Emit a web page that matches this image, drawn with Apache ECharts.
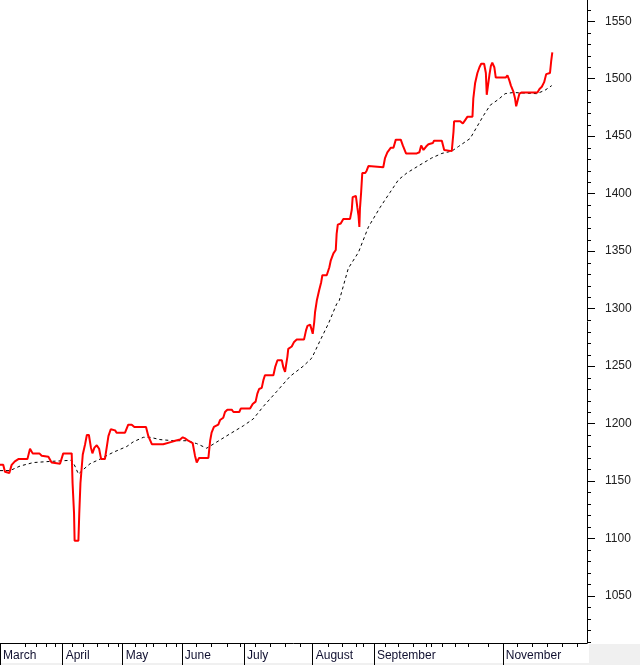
<!DOCTYPE html>
<html><head><meta charset="utf-8">
<script src="https://cdn.jsdelivr.net/npm/echarts@6/dist/echarts.min.js"></script>
<style>html,body{margin:0;padding:0;background:#fff}#c{width:640px;height:665px}</style>
</head><body><div id="c"></div>
<script>
// trading-day index (x) and price (y)
const priceDay = [0,1.1,1.7,3.2,4.0,5.1,6.3,9.4,10.3,11.2,13.5,14.3,16.6,17.7,20.6,21.7,24.6,24.9,25.4,25.6,26.9,27.2,27.6,28.4,29.2,29.8,30.5,31.2,31.7,32.4,33.2,34.0,34.7,36.0,36.6,37.2,38.0,39.5,40.0,42.9,44.0,45.2,46.1,50.1,50.9,52.1,56.0,56.6,58.9,60.1,61.8,62.7,63.5,64.6,66.1,66.9,67.5,68.3,71.5,72.1,72.6,73.4,74.9,75.5,76.6,77.2,78.0,79.5,80.1,82.1,82.6,85.8,86.7,87.7,88.3,88.9,89.8,90.4,90.9,93.8,94.4,95.2,96.7,97.2,97.8,98.1,98.6,98.9,100.1,100.9,101.8,104.3,105.0,105.5,106.4,107.0,107.3,107.8,108.1,108.7,109.5,110.2,110.6,112.1,113.0,113.5,114.4,115.2,115.5,115.9,116.9,117.8,120.1,120.7,121.0,122.1,122.6,123.0,123.3,123.5,123.9,124.3,125.3,125.8,126.4,131.5,132.1,132.9,134.1,135.0,135.8,137.5,138.2,139.3,143.0,143.9,144.5,145.3,146.2,147.0,148.5,148.9,151.6,152.4,152.7,155.0,155.6,155.8,157.9,158.8,159.6,160.4,162.1,162.4,163.0,163.8,164.5,165.1,166.1,166.7,167.0,167.5,167.9,168.4,168.9,169.6,170.1,173.5,174.1,174.7,175.3,176.1,176.7,177.1,177.5,178.2,179.0,184.4,185.1,185.9,186.7,187.4,188.7,189.1,189.5];
const priceVal = [1164,1164,1158,1157,1164,1167,1169,1169,1178,1174,1174,1172,1171,1166,1165,1174,1174,1148,1122,1098,1098,1122,1148,1173,1182,1190,1190,1179,1174,1179,1181,1178,1169,1169,1179,1189,1195,1194,1192,1192,1199,1199,1197,1197,1189,1182,1182,1183,1184,1185,1186,1188,1187,1185,1183,1172,1166,1170,1170,1185,1192,1197,1199,1203,1205,1210,1212,1212,1210,1210,1213,1213,1217,1219,1226,1230,1231,1238,1242,1242,1249,1255,1255,1249,1245,1250,1258,1265,1267,1271,1273,1273,1281,1285,1286,1281,1278,1288,1297,1307,1316,1323,1329,1329,1336,1342,1348,1351,1365,1373,1374,1378,1378,1386,1397,1398,1388,1381,1371,1387,1401,1418,1418,1420,1424,1423,1431,1436,1440,1440,1447,1447,1442,1435,1435,1436,1442,1438,1441,1443,1444,1446,1446,1438,1437,1437,1454,1463,1463,1461,1464,1467,1467,1483,1496,1505,1510,1513,1513,1505,1486,1486,1503,1511,1514,1510,1501,1501,1503,1499,1494,1489,1483,1476,1480,1487,1488,1488,1491,1493,1497,1504,1505,1515,1523];
// moving average
const maDay = [0,3.4,6.9,11.4,17.2,24.6,25.7,26.9,28.6,30.9,34.3,38.9,43.5,45.7,49.2,51.5,54.9,59.5,64.1,67.5,70.9,73.8,78.9,83.5,86.9,90.4,95.0,99.5,104.1,107.0,109.8,112.7,115.5,116.4,119.5,123.0,126.4,130.4,133.8,136.7,139.6,144.1,148.1,151.6,155.0,157.3,161.3,163.6,165.9,168.2,171.0,173.3,176.1,184.2,187.0,189.3];
const maVal = [1159,1159,1163,1166,1167,1168,1163,1156,1160,1165,1169,1175,1180,1184,1188,1188,1186,1185,1185,1182.5,1178.5,1183,1191,1198,1204,1215,1228,1241,1250,1257,1272,1287,1304,1307,1335,1349,1371,1388,1401,1412,1418,1425,1431,1435,1437,1441,1448,1458,1468,1477,1482,1487,1488,1487,1490,1494];
const monthNames = ["March","April","May","June","July","August","September","November"];
const monthStarts = [0,21.5,42.1,62.4,83.7,107.3,128.3,172.5];
const weekTicks = [8.6,12.4,16.0,18.9,24.9,28.6,33.2,37.2,40.6,46.3,50.3,52.6,57.0,60.6,67.5,72.6,77.8,82.4,87.5,92.7,97.8,103.0,112.7,117.3,122.4,124.7,132.1,136.7,141.8,146.4,148.1,151.6,156.1,160.7,167.6,177.3,182.5,187.6,192.8,197.9];
const yLabels = [1050,1100,1150,1200,1250,1300,1350,1400,1450,1500,1550];
const yMinor = [1010,1020,1030,1040,1060,1070,1080,1090,1110,1120,1130,1140,1160,1170,1180,1190,1210,1220,1230,1240,1260,1270,1280,1290,1310,1320,1330,1340,1360,1370,1380,1390,1410,1420,1430,1440,1460,1470,1480,1490,1510,1520,1530,1540,1560];

const X_MIN = 0, X_MAX = 201.4, Y_MIN = 1009, Y_MAX = 1568.5;
const FONT = 'Liberation Sans, Arial, sans-serif';

const chart = echarts.init(document.getElementById('c'), null, {renderer: 'canvas'});
chart.setOption({
  animation: false,
  backgroundColor: '#fff',
  grid: {left: 0, right: 53, top: 0, bottom: 22, containLabel: false},
  xAxis: [
    {type: 'value', min: X_MIN, max: X_MAX, position: 'bottom',
     axisLine: {show: true, onZero: false, lineStyle: {color: '#000', width: 1}},
     axisTick: {show: true, customValues: weekTicks, length: 4, lineStyle: {color: '#000'}},
     axisLabel: {show: false}, splitLine: {show: false}},
    {type: 'value', min: X_MIN, max: X_MAX, position: 'bottom',
     axisLine: {show: false, onZero: false},
     axisTick: {show: true, customValues: monthStarts, length: 22, lineStyle: {color: '#000'}},
     axisLabel: {show: true, customValues: monthStarts, align: 'left', margin: 7,
       padding: [0, 0, 0, 3], color: '#101030', fontFamily: FONT, fontSize: 12,
       formatter: v => { const i = monthStarts.findIndex(m => Math.abs(m - v) < 1e-6); return i >= 0 ? monthNames[i] : ''; }},
     splitLine: {show: false}}
  ],
  yAxis: [
    {type: 'value', min: Y_MIN, max: Y_MAX, position: 'right',
     axisLine: {show: true, onZero: false, lineStyle: {color: '#000', width: 1}},
     axisTick: {show: true, customValues: yLabels, length: 8, lineStyle: {color: '#000'}},
     axisLabel: {show: true, customValues: yLabels, margin: 18, color: '#202020', fontFamily: FONT, fontSize: 12,
       formatter: v => String(v)},
     splitLine: {show: false}}
  ],
  series: [
    {type: 'line', name: 'MA', data: maDay.map((d, i) => [d, maVal[i]]), showSymbol: false,
     lineStyle: {color: '#000', width: 1, type: [3, 3]}, z: 2},
    {type: 'line', name: 'Price', data: priceDay.map((d, i) => [d, priceVal[i]]), showSymbol: false,
     lineStyle: {color: '#ff0000', width: 2}, z: 3}
  ]
});

// minor ticks of the price axis, placed through the axis scale
const axisX = chart.convertToPixel({xAxisIndex: 0}, X_MAX);
const gfx = yMinor.map(v => {
  const py = Math.round(chart.convertToPixel({yAxisIndex: 0}, v)) + 0.5;
  return {type: 'line', silent: true, shape: {x1: axisX, y1: py, x2: axisX + 4, y2: py},
          style: {stroke: '#000', lineWidth: 1}};
});
const bottomY = chart.convertToPixel({yAxisIndex: 0}, Y_MIN);
gfx.push({type: 'rect', silent: true, shape: {x: axisX + 2, y: bottomY + 1, width: 640 - axisX - 2, height: 665 - bottomY - 1}, style: {fill: '#f0f0f0'}});
gfx.push({type: 'rect', silent: true, shape: {x: 0, y: 663, width: 640, height: 2}, style: {fill: '#f0f0f0'}});
chart.setOption({graphic: gfx});
</script></body></html>
